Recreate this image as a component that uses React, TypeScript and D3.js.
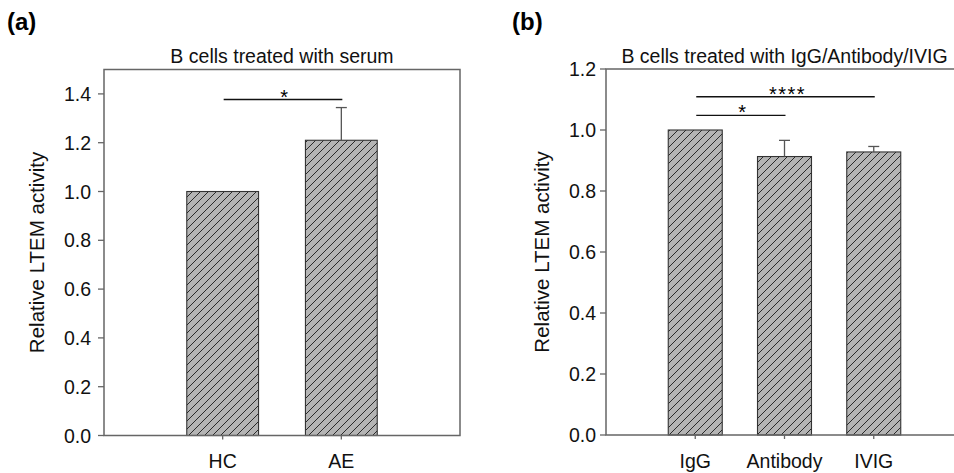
import React from "react";
import * as d3 from "d3";

// panel (a)
const catsA = ["HC", "AE"];
const valsA = [1.0, 1.21];
const errA = [0, 0.134];
const ticksA = [0, 0.2, 0.4, 0.6, 0.8, 1.0, 1.2, 1.4];
const sigA: [number, number, number, string][] = [[0, 1, 1.377, "*"]];

// panel (b)
const catsB = ["IgG", "Antibody", "IVIG"];
const valsB = [1.0, 0.913, 0.928];
const errB = [0, 0.053, 0.018];
const ticksB = [0, 0.2, 0.4, 0.6, 0.8, 1.0, 1.2];
const sigB: [number, number, number, string][] = [
  [0, 1, 1.048, "*"],
  [0, 2, 1.109, "****"],
];

const FONT = "'Liberation Sans', Arial, sans-serif";

type PanelProps = {
  letter: string;
  title: string;
  cats: string[];
  vals: number[];
  errs: number[];
  ticks: number[];
  sig: [number, number, number, string][];
  yMax: number;
  left: number;
  right: number;
  top: number;
  bottom: number;
  letterX: number;
  labelX: number;
  tickGap: number;
};

const Panel = (p: PanelProps) => {
  const x = d3.scaleLinear().domain([0, p.cats.length + 1]).range([p.left, p.right]);
  const y = d3.scaleLinear().domain([0, p.yMax]).range([p.bottom, p.top]);
  const step = x(1) - x(0);
  const bw = step * 0.605;
  const cx = (p.left + p.right) / 2;
  const cy = (p.top + p.bottom) / 2;

  return (
    <g>
      <text x={p.letterX} y={30} fontFamily={FONT} fontWeight="bold" fontSize={24}>
        {p.letter}
      </text>
      <text x={cx} y={63} textAnchor="middle" fontFamily={FONT} fontSize={19.5} fill="#111">
        {p.title}
      </text>

      {/* bars */}
      {p.cats.map((c, i) => (
        <rect
          key={c}
          x={x(i + 1) - bw / 2}
          y={y(p.vals[i])}
          width={bw}
          height={y(0) - y(p.vals[i])}
          fill="url(#hatch)"
          stroke="#333"
          strokeWidth={1.1}
        />
      ))}

      {/* error bars */}
      {p.cats.map((c, i) =>
        p.errs[i] > 0 ? (
          <g key={"e" + c} stroke="#555" strokeWidth={1.3}>
            <line x1={x(i + 1)} x2={x(i + 1)} y1={y(p.vals[i])} y2={y(p.vals[i] + p.errs[i])} />
            <line
              x1={x(i + 1) - 5.5}
              x2={x(i + 1) + 5.5}
              y1={y(p.vals[i] + p.errs[i])}
              y2={y(p.vals[i] + p.errs[i])}
            />
          </g>
        ) : null
      )}

      {/* significance */}
      {p.sig.map(([a, b, v, s], k) => (
        <g key={"s" + k}>
          <line x1={x(a + 1) + 1} x2={x(b + 1) + 1} y1={y(v)} y2={y(v)} stroke="#111" strokeWidth={1.3} />
          <text
            x={(x(a + 1) + x(b + 1)) / 2 + 3}
            y={y(v) + 4}
            textAnchor="middle"
            fontFamily={FONT}
            fontSize={20}
            letterSpacing={1.5}
          >
            {s}
          </text>
        </g>
      ))}

      {/* frame */}
      <path
        d={`M${p.left},${p.top}H${p.right}V${p.bottom}H${p.left}Z`}
        fill="none"
        stroke="#666"
        strokeWidth={1.5}
      />

      {/* y ticks */}
      {p.ticks.map((t) => (
        <g key={"y" + t}>
          <line x1={p.left - 6} x2={p.left} y1={y(t)} y2={y(t)} stroke="#666" strokeWidth={1.3} />
          <text
            x={p.left - p.tickGap}
            y={y(t)}
            dy="0.36em"
            textAnchor="end"
            fontFamily={FONT}
            fontSize={19.5}
            fill="#111"
          >
            {d3.format(".1f")(t)}
          </text>
        </g>
      ))}

      {/* x ticks */}
      {p.cats.map((c, i) => (
        <g key={"x" + c}>
          <line x1={x(i + 1)} x2={x(i + 1)} y1={p.bottom} y2={p.bottom + 4} stroke="#666" strokeWidth={1.3} />
          <text x={x(i + 1)} y={468} textAnchor="middle" fontFamily={FONT} fontSize={19.5} fill="#111">
            {c}
          </text>
        </g>
      ))}

      <text
        transform={`translate(${p.labelX},${cy}) rotate(-90)`}
        textAnchor="middle"
        fontFamily={FONT}
        fontSize={20.5}
        fill="#111"
      >
        Relative LTEM activity
      </text>
    </g>
  );
};

export default function App() {
  return (
    <svg
      width={954}
      height={473}
      style={{ position: "absolute", left: 0, top: 0, background: "#fff" }}
    >
      <defs>
        <pattern id="hatch" patternUnits="userSpaceOnUse" width={8} height={8}>
          <rect width={8} height={8} fill="#b4b4b4" />
          <path d="M0,8L8,0M-2,2L2,-2M6,10L10,6" stroke="#2a2a2a" strokeWidth={1} />
        </pattern>
      </defs>
      <rect width={954} height={473} fill="#fff" />
      <Panel
        letter="(a)"
        title="B cells treated with serum"
        cats={catsA}
        vals={valsA}
        errs={errA}
        ticks={ticksA}
        sig={sigA}
        yMax={1.5}
        left={104}
        right={460}
        top={69.5}
        bottom={435.5}
        letterX={7}
        labelX={44}
        tickGap={13}
      />
      <Panel
        letter="(b)"
        title="B cells treated with IgG/Antibody/IVIG"
        cats={catsB}
        vals={valsB}
        errs={errB}
        ticks={ticksB}
        sig={sigB}
        yMax={1.2}
        left={606}
        right={963}
        top={69}
        bottom={435}
        letterX={512}
        labelX={549}
        tickGap={10}
      />
    </svg>
  );
}
